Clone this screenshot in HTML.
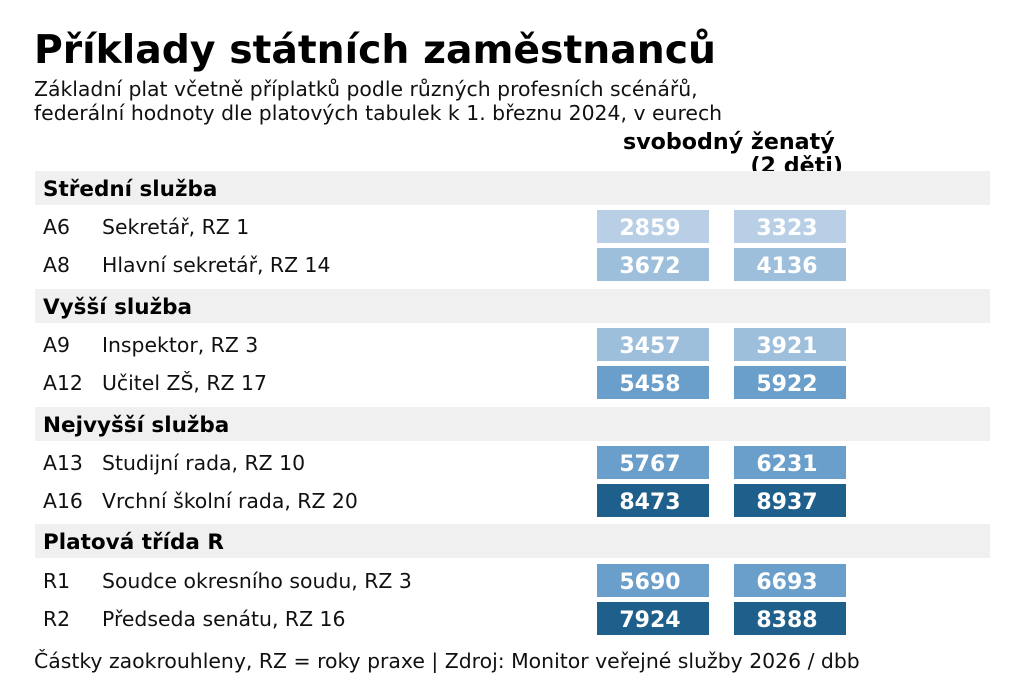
<!DOCTYPE html>
<html><head><meta charset="utf-8"><style>
body{margin:0;background:#fff}
svg{display:block;font-family:"DejaVu Sans","Liberation Sans",sans-serif}
</style></head><body>
<svg width="1024" height="683" viewBox="0 0 1024 683" xmlns="http://www.w3.org/2000/svg">
<text x="34" y="63" font-size="39.3" font-weight="bold" fill="#000">Příklady státních zaměstnanců</text>
<text x="34" y="96" font-size="20.4" fill="#111">Základní plat včetně příplatků podle různých profesních scénářů,</text>
<text x="34" y="120" font-size="20.4" fill="#111">federální hodnoty dle platových tabulek k 1. březnu 2024, v eurech</text>
<text x="623" y="149" font-size="22.2" font-weight="bold">svobodný ženatý</text>
<text x="843" y="173" font-size="22.2" font-weight="bold" text-anchor="end">(2 děti)</text>
<g fill="#f0f0f0">
<rect x="35" y="171" width="955" height="34"/>
<rect x="35" y="289" width="955" height="34"/>
<rect x="35" y="407" width="955" height="34"/>
<rect x="35" y="524" width="955" height="34"/>
</g>
<g font-size="21.5" font-weight="bold">
<text x="43" y="196">Střední služba</text>
<text x="43" y="314">Vyšší služba</text>
<text x="43" y="432">Nejvyšší služba</text>
<text x="43" y="549">Platová třída R</text>
</g>
<g font-size="20.4" fill="#111">
<text x="43" y="234">A6</text><text x="102" y="234">Sekretář, RZ 1</text>
<text x="43" y="272">A8</text><text x="102" y="272">Hlavní sekretář, RZ 14</text>
<text x="43" y="352">A9</text><text x="102" y="352">Inspektor, RZ 3</text>
<text x="43" y="390">A12</text><text x="102" y="390">Učitel ZŠ, RZ 17</text>
<text x="43" y="470">A13</text><text x="102" y="470">Studijní rada, RZ 10</text>
<text x="43" y="508">A16</text><text x="102" y="508">Vrchní školní rada, RZ 20</text>
<text x="43" y="588">R1</text><text x="102" y="588">Soudce okresního soudu, RZ 3</text>
<text x="43" y="626">R2</text><text x="102" y="626">Předseda senátu, RZ 16</text>
</g>
<g>
<rect x="597" y="210" width="112" height="33" fill="#b8cfe6"/><rect x="734" y="210" width="112" height="33" fill="#b8cfe6"/>
<rect x="597" y="248" width="112" height="33" fill="#9ebfdc"/><rect x="734" y="248" width="112" height="33" fill="#9ebfdc"/>
<rect x="597" y="328" width="112" height="33" fill="#9ebfdc"/><rect x="734" y="328" width="112" height="33" fill="#9ebfdc"/>
<rect x="597" y="366" width="112" height="33" fill="#6a9ecb"/><rect x="734" y="366" width="112" height="33" fill="#6a9ecb"/>
<rect x="597" y="446" width="112" height="33" fill="#6a9ecb"/><rect x="734" y="446" width="112" height="33" fill="#6a9ecb"/>
<rect x="597" y="484" width="112" height="33" fill="#1f5f8b"/><rect x="734" y="484" width="112" height="33" fill="#1f5f8b"/>
<rect x="597" y="564" width="112" height="33" fill="#6a9ecb"/><rect x="734" y="564" width="112" height="33" fill="#6a9ecb"/>
<rect x="597" y="602" width="112" height="33" fill="#1f5f8b"/><rect x="734" y="602" width="112" height="33" fill="#1f5f8b"/>
</g>
<g font-size="22" font-weight="bold" fill="#fff" text-anchor="middle">
<text x="650" y="235">2859</text><text x="787" y="235">3323</text>
<text x="650" y="273">3672</text><text x="787" y="273">4136</text>
<text x="650" y="353">3457</text><text x="787" y="353">3921</text>
<text x="650" y="391">5458</text><text x="787" y="391">5922</text>
<text x="650" y="471">5767</text><text x="787" y="471">6231</text>
<text x="650" y="509">8473</text><text x="787" y="509">8937</text>
<text x="650" y="589">5690</text><text x="787" y="589">6693</text>
<text x="650" y="627">7924</text><text x="787" y="627">8388</text>
</g>
<text x="34" y="668" font-size="20.4" fill="#111">Částky zaokrouhleny, RZ = roky praxe | Zdroj: Monitor veřejné služby 2026 / dbb</text>
</svg>
</body></html>
